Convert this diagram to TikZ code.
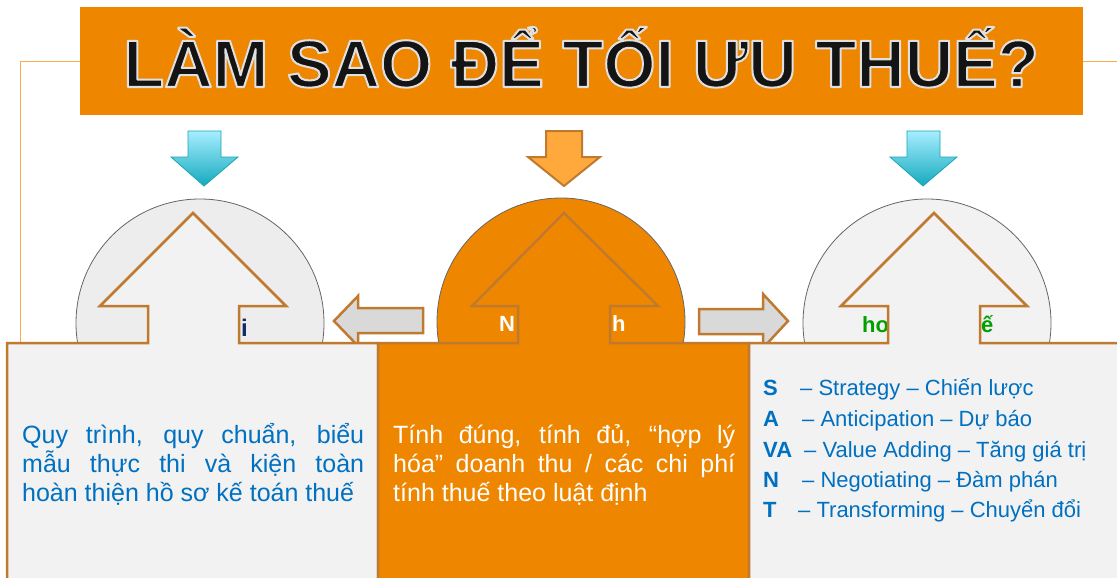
\documentclass[tikz,border=0pt]{standalone}
\usepackage{fontspec}
\setmainfont{Liberation Sans}
\definecolor{banner}{HTML}{EE8600}
\definecolor{bord}{HTML}{C07A2F}
\definecolor{boxgrey}{HTML}{F2F2F2}
\definecolor{circgrey}{HTML}{EDEDED}
\definecolor{sidegrey}{HTML}{D9D9D9}
\definecolor{txtblue}{HTML}{0070C0}
\definecolor{okgreen}{HTML}{00A000}
\definecolor{navy}{HTML}{102A6A}
\definecolor{lineor}{HTML}{FAAB4A}
\definecolor{cyantop}{HTML}{A6EEFF}
\definecolor{cyanbot}{HTML}{15A9BE}
\definecolor{cyanedge}{HTML}{1AA6B5}
\definecolor{arrorange}{HTML}{FFA83C}
\newcommand{\strokeon}{\special{pdf:literal direct 2 Tr 2 w 1 j 0.88 G}}
\newcommand{\strokeoff}{\special{pdf:literal direct 0 Tr}}
\tikzset{
  combo/.style={draw=bord, line width=2.5pt, line join=miter},
  circ/.style={draw=black!60, line width=0.8pt},
  sidearrow/.style={draw=bord, line width=2.5pt, fill=sidegrey, line join=miter},
  cyanarrow/.style={draw=cyanedge, line width=0.8pt, top color=cyantop, bottom color=cyanbot},
  orarrow/.style={draw=bord, line width=2pt, fill=arrorange, line join=miter},
  bodytext/.style={anchor=base west, inner sep=0pt, font=\fontsize{25}{29}\selectfont},
  listtext/.style={anchor=base west, inner sep=0pt, text=txtblue, font=\fontsize{22}{26}\selectfont},
  listletter/.style={listtext, font=\fontsize{22}{26}\selectfont\bfseries},
  frag/.style={anchor=base west, inner sep=0pt, font=\fontsize{22}{26}\selectfont\bfseries},
  titletxt/.style={anchor=base, inner sep=0pt, text=black!92, font=\fontsize{67}{70}\selectfont\bfseries}
}
\begin{document}
\begin{tikzpicture}[x=1pt,y=-1pt]
\useasboundingbox (0,0) rectangle (1117,578);
\clip (0,0) rectangle (1117,578);
\fill[white] (0,0) rectangle (1117,578);

% connector lines
\coordinate (lcorner) at (20,62);
\coordinate (lend) at (20,360);
\coordinate (rend) at (1117,62);

% banner
\node[fill=banner, minimum width=1003pt, minimum height=108pt, inner sep=0pt, anchor=north west] (banner) at (80,7) {};
\draw[lineor, line width=1pt] (banner.west |- lcorner) -- (lcorner) -- (lend);
\draw[lineor, line width=1pt] (banner.east |- rend) -- (rend);

% title
\node[titletxt] (title) at (581,87) {\strokeon LÀM SAO ĐỂ TỐI ƯU THUẾ?\strokeoff};

% down arrows
\draw[cyanarrow] (188,131) -- (221,131) -- (221,157) -- (238,157) -- (204,186) -- (171,157) -- (188,157) -- cycle;
\draw[orarrow] (546,131) -- (582,131) -- (582,157) -- (600,157) -- (564,186) -- (528,157) -- (546,157) -- cycle;
\draw[cyanarrow] (907,131) -- (940,131) -- (940,157) -- (957,157) -- (923,186) -- (890,157) -- (907,157) -- cycle;

% circles
\draw[circ, fill=circgrey] (200,323) circle [radius=124];
\draw[circ, fill=banner] (561,322) circle [radius=124];
\draw[circ, fill=boxgrey] (927,323) circle [radius=124];

% visible fragments of circle labels
\node[frag, text=navy, font=\fontsize{24}{28}\selectfont\bfseries] (fragi) at (241,336) {i};
\node[frag, text=white] (fragN) at (499,331) {N};
\node[frag, text=white] (fragh) at (612,331) {h};
\node[frag, text=okgreen] (fragho) at (862,332) {ho};
\node[frag, text=okgreen] (frage) at (981,332) {ế};

% side arrows
\draw[sidearrow] (334,321) -- (358,296) -- (358,308) -- (423,308) -- (423,333) -- (358,333) -- (358,346) -- cycle;
\draw[sidearrow] (699,309) -- (763,309) -- (763,294) -- (788,321) -- (763,348) -- (763,334) -- (699,334) -- cycle;

% arrow + box shapes
\draw[combo, fill=boxgrey] (7,343) -- (148,343) -- (148,306) -- (100,306) -- (193,213) -- (286,306) -- (239,306) -- (239,343) -- (378,343) -- (378,600) -- (7,600) -- cycle;
\draw[combo, fill=banner] (378,343) -- (518,343) -- (518,306) -- (472,306) -- (564,213) -- (658,306) -- (610,306) -- (610,343) -- (749,343) -- (749,600) -- (378,600) -- cycle;
\draw[combo, fill=boxgrey] (749,343) -- (888,343) -- (888,306) -- (841,306) -- (934,213) -- (1027,306) -- (980,306) -- (980,343) -- (1130,343) -- (1130,600) -- (749,600) -- cycle;

% left box text
\node[bodytext, text=txtblue] (l1) at (22,443) {\makebox[342pt][s]{Quy trình, quy chuẩn, biểu}};
\node[bodytext, text=txtblue] (l2) at (22,472) {\makebox[342pt][s]{mẫu thực thi và kiện toàn}};
\node[bodytext, text=txtblue] (l3) at (22,501) {hoàn thiện hồ sơ kế toán thuế};

% middle box text
\node[bodytext, text=white] (m1) at (393,443) {\makebox[342pt][s]{Tính đúng, tính đủ, “hợp lý}};
\node[bodytext, text=white] (m2) at (393,472) {\makebox[342pt][s]{hóa” doanh thu / các chi phí}};
\node[bodytext, text=white] (m3) at (393,501) {tính thuế theo luật định};

% right box list
\node[listletter] (sS) at (763,395) {S};
\node[listtext] (tS) at (800,395) {– Strategy – Chiến lược};
\node[listletter] (sA) at (763,426) {A};
\node[listtext] (tA) at (802,426) {– Anticipation – Dự báo};
\node[listletter] (sVA) at (763,457) {VA};
\node[listtext] (tVA) at (804,457) {– Value Adding – Tăng giá trị};
\node[listletter] (sN) at (763,487) {N};
\node[listtext] (tN) at (802,487) {– Negotiating – Đàm phán};
\node[listletter] (sT) at (763,517) {T};
\node[listtext] (tT) at (798,517) {– Transforming – Chuyển đổi};
\end{tikzpicture}
\end{document}
